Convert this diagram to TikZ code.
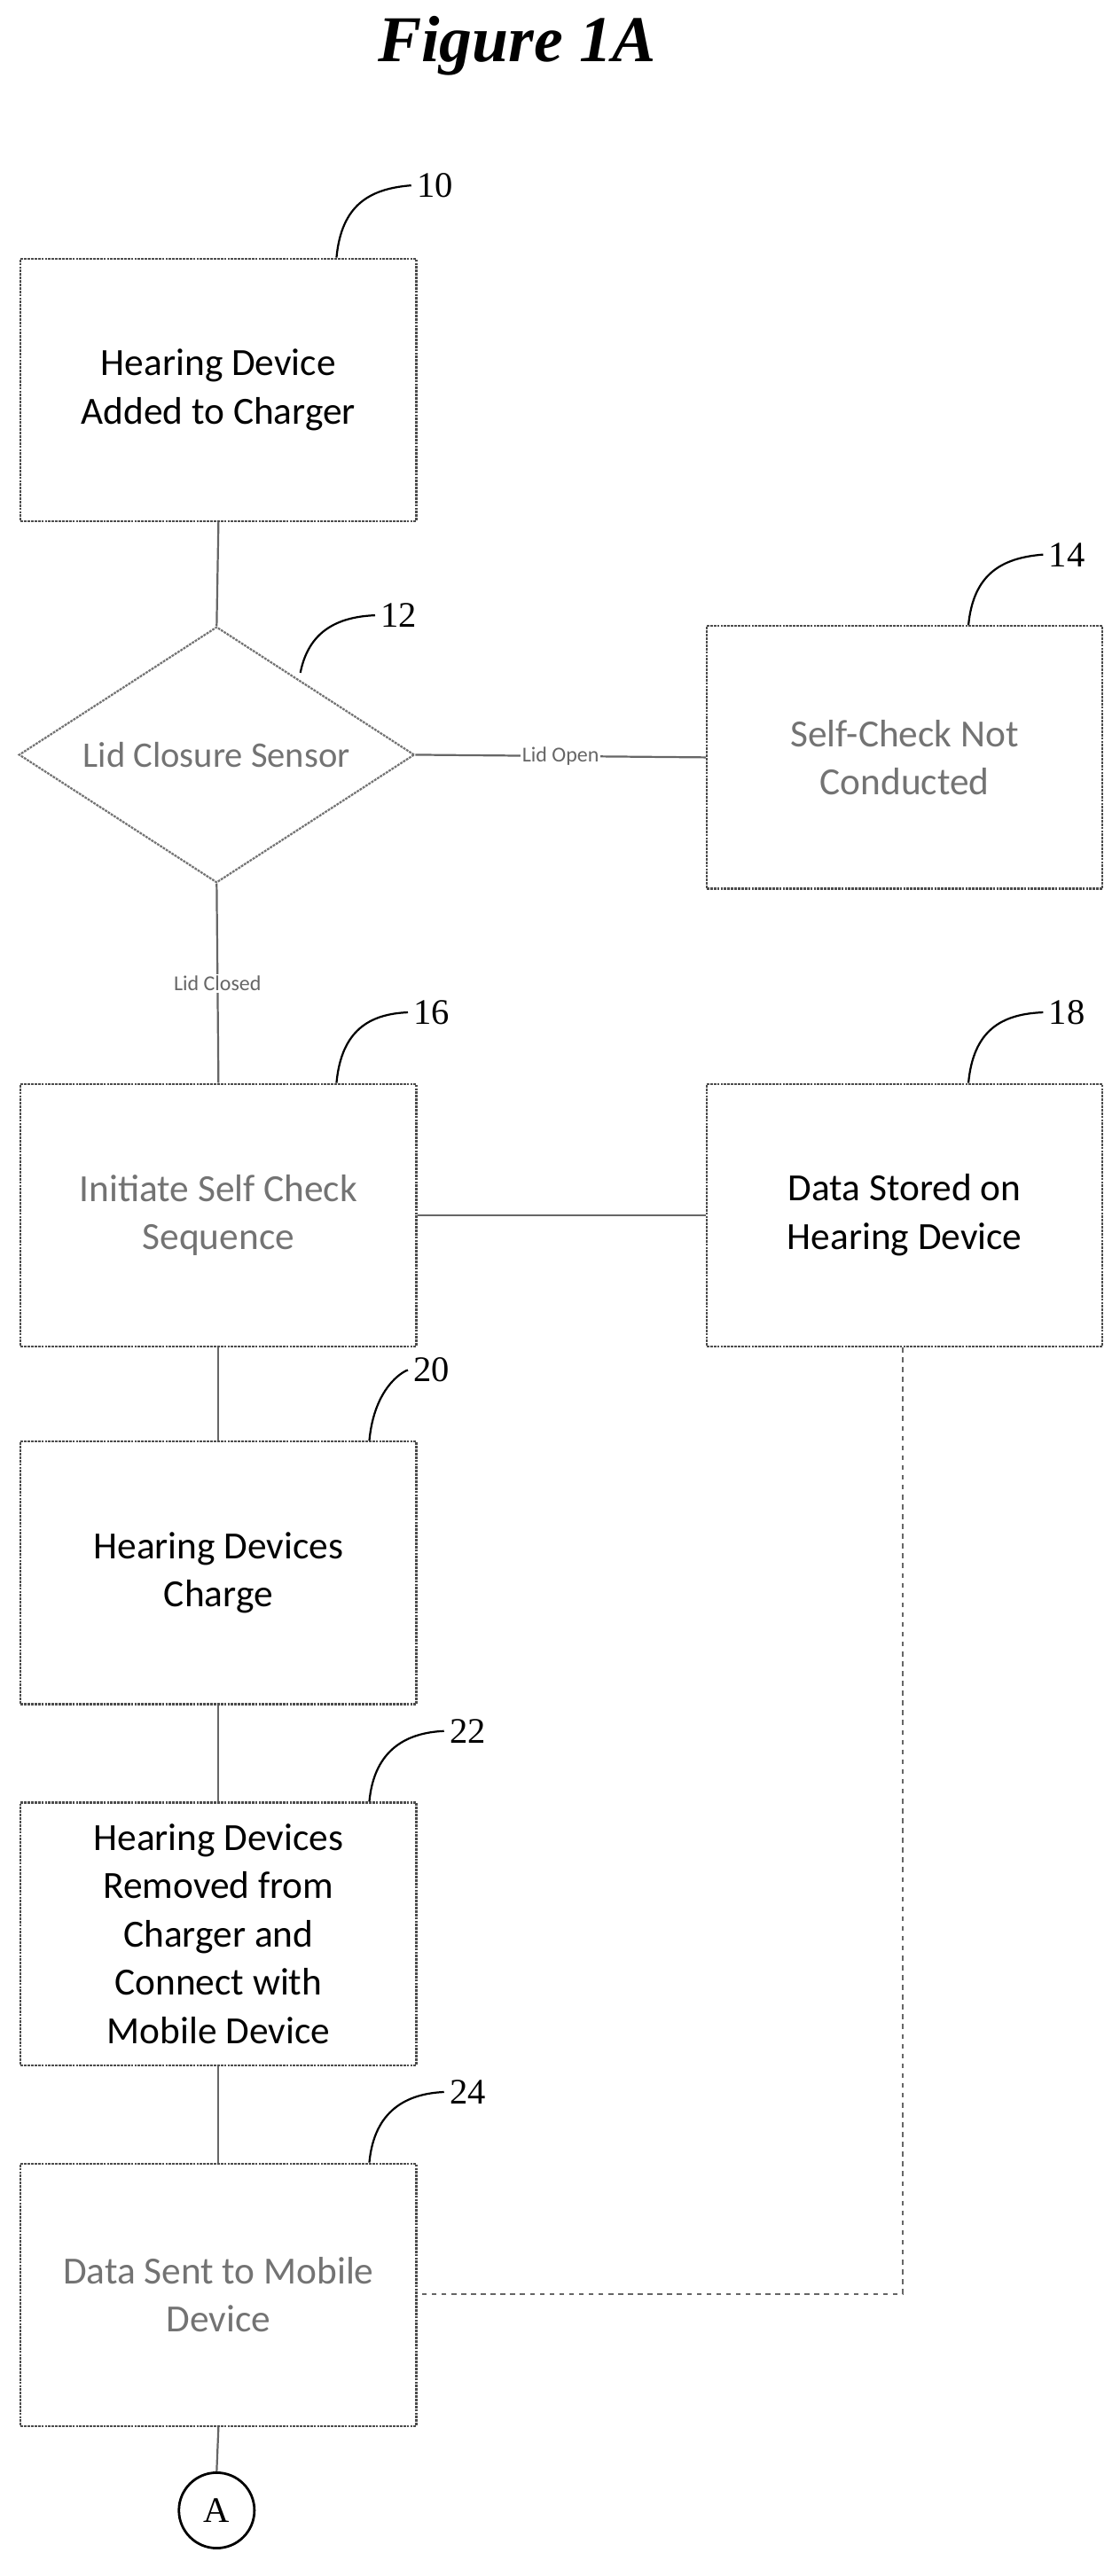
\documentclass[tikz,border=0pt]{standalone}
\usepackage{fontspec}
\setmainfont{Carlito}
\newfontfamily\serifnum{Liberation Serif}
\usetikzlibrary{shapes.geometric}
\begin{document}
\begin{tikzpicture}[x=1bp,y=-1bp,
  box/.style={draw=black!70,line width=1.2bp,dash pattern=on 1.5bp off 0.6bp,minimum width=241bp,minimum height=160bp,align=center,font=\fontsize{23.5}{29.5}\selectfont,anchor=north west},
  gbox/.style={box,text=black!55},
  conn/.style={draw=black!60,line width=1.2bp},
  num/.style={font=\serifnum\fontsize{22}{24}\selectfont},
  lead/.style={draw=black,line width=1.2bp},
  small/.style={font=\fontsize{13}{14}\selectfont,text=black!60,fill=white,inner sep=1bp}]
\useasboundingbox (0,0) rectangle (682,1570);
\node[font=\serifnum\bfseries\itshape\fontsize{40}{44}\selectfont] (title) at (315,28) {Figure 1A};
\node[box] (b10) at (12,157) {Hearing Device\\Added to Charger};
\node[draw=black!55,line width=1.2bp,dash pattern=on 1.5bp off 0.6bp,diamond,aspect=1.55,minimum width=241bp,minimum height=156bp,inner sep=0pt,text=black!55,font=\fontsize{22}{24}\selectfont] (d12) at (132,460) {Lid Closure Sensor};
\node[gbox] (b14) at (430,381) {Self-Check Not\\Conducted};
\node[gbox] (b16) at (12,660) {Initiate Self Check\\Sequence};
\node[box] (b18) at (430,660) {Data Stored on\\Hearing Device};
\node[box] (b20) at (12,878) {Hearing Devices\\Charge};
\node[box,inner sep=1bp] (b22) at (12,1098) {Hearing Devices\\Removed from\\Charger and\\Connect with\\Mobile Device};
\node[gbox] (b24) at (12,1318) {Data Sent to Mobile\\Device};
\node[draw=black,line width=1.5bp,circle,minimum size=46bp,inner sep=0pt,font=\serifnum\fontsize{22}{24}\selectfont] (cA) at (132,1530) {A};
\draw[conn] (b10.south) -- (d12.north);
\draw[conn] (d12.east) -- node[small] (lo) {Lid Open} (b14.west);
\draw[conn] (d12.south) -- node[small,pos=0.5] (lc) {Lid Closed} (b16.north);
\draw[conn] (b16.east) -- (b18.west);
\draw[conn] (b16.south) -- (b20.north);
\draw[conn] (b20.south) -- (b22.north);
\draw[conn] (b22.south) -- (b24.north);
\draw[conn] (b24.south) -- (cA.north);
\coordinate (corner) at (550,1398);
\draw[conn,dashed] (b18.south -| corner) -- (corner) -- (b24.east |- corner);
\node[num] (n10) at (265,113) {10};
\node[num] (n12) at (243,375) {12};
\node[num] (n14) at (650,338) {14};
\node[num] (n16) at (263,617) {16};
\node[num] (n18) at (650,617) {18};
\node[num] (n20) at (263,835) {20};
\node[num] (n22) at (285,1055) {22};
\node[num] (n24) at (285,1275) {24};
\draw[lead] (205,157) .. controls (208,125) and (225,115) .. (n10.west);
\draw[lead] (183,410) .. controls (188,385) and (205,376) .. (n12.west);
\draw[lead] (590,381) .. controls (593,350) and (610,340) .. (n14.west);
\draw[lead] (205,660) .. controls (208,628) and (225,618) .. (n16.west);
\draw[lead] (590,660) .. controls (593,628) and (610,618) .. (n18.west);
\draw[lead] (225,878) .. controls (228,846) and (245,836) .. (n20.west);
\draw[lead] (225,1098) .. controls (228,1066) and (248,1056) .. (n22.west);
\draw[lead] (225,1318) .. controls (228,1286) and (248,1276) .. (n24.west);
\end{tikzpicture}
\end{document}
